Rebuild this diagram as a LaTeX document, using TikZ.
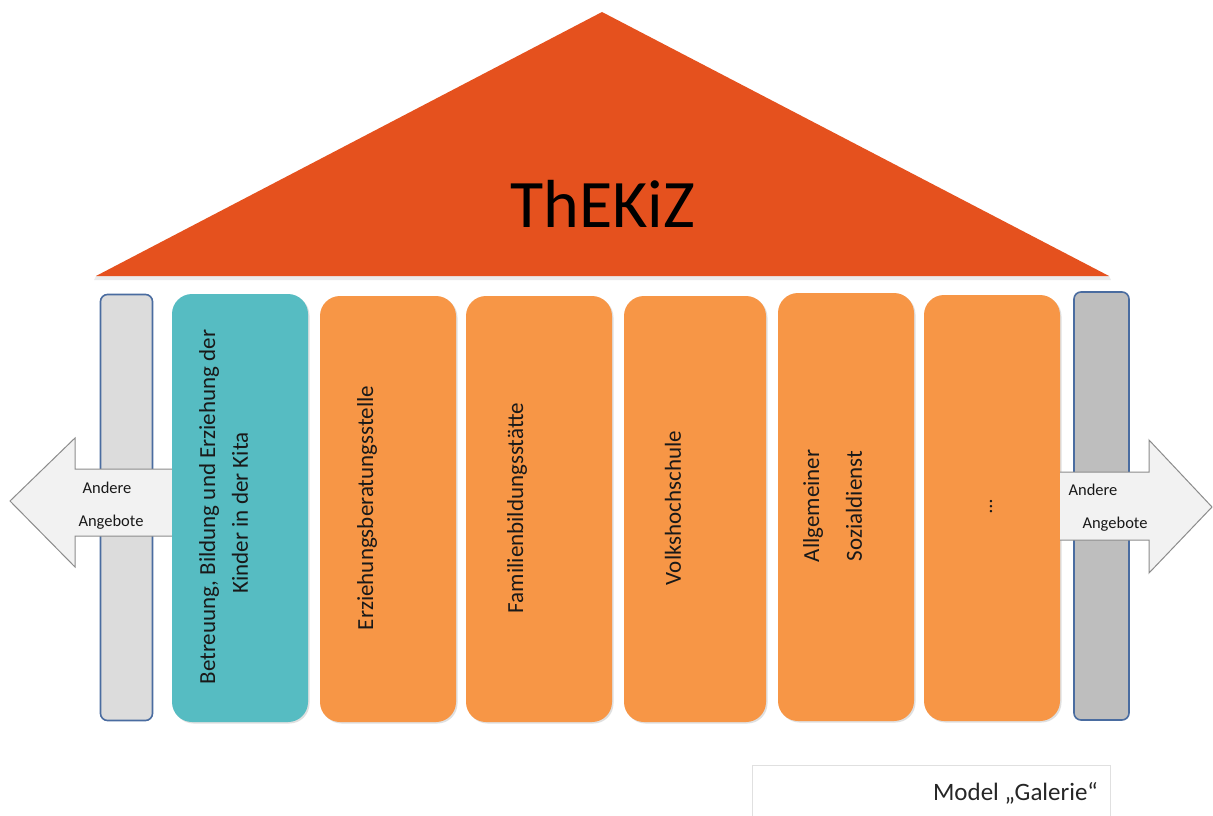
\documentclass[tikz,border=0pt]{standalone}
\usepackage{fontspec}
\setmainfont{Carlito}
\usetikzlibrary{shadows}
\definecolor{roof}{RGB}{229,81,30}
\definecolor{oran}{RGB}{247,150,70}
\definecolor{teal2}{RGB}{86,188,194}
\definecolor{pilL}{RGB}{220,220,220}
\definecolor{pilR}{RGB}{190,190,190}
\definecolor{pilB}{RGB}{74,108,160}
\definecolor{arrF}{RGB}{242,242,242}
\definecolor{arrB}{RGB}{140,140,140}
\definecolor{txt}{RGB}{25,25,25}
\tikzset{
  boxbase/.style={rectangle, rounded corners=20pt, inner sep=0pt, draw=none,
    drop shadow={shadow xshift=1.5pt, shadow yshift=-1.5pt, opacity=0.25}},
  obox/.style={boxbase, fill=oran},
  tbox/.style={boxbase, fill=teal2},
  pillar/.style={rectangle, rounded corners=7pt, inner sep=0pt, draw=pilB, line width=1.6pt},
  vlab/.style={rotate=90, inner sep=0pt, text=txt, font=\fontsize{23}{27}\selectfont},
  alab/.style={inner sep=0pt, text=txt, font=\fontsize{16.5}{19}\selectfont},
  arrowshape/.style={fill=arrF, draw=arrB, line width=1pt, line join=miter}
}
\begin{document}
\begin{tikzpicture}[x=1pt,y=-1pt]
\useasboundingbox (0,0) rectangle (1213,816);
\fill[white] (0,0) rectangle (1213,816);

% roof
\fill[black, opacity=0.08] (96,276) -- (1109,276) -- (1111,280) -- (94,280) -- cycle;
\fill[roof] (602,12) -- (1109,276) -- (96,276) -- cycle;
\node[inner sep=0pt, font=\fontsize{68}{80}\selectfont, text=black] (title) at (603,204) {ThEKiZ};

% left pillar and arrow
\node[pillar, fill=pilL, minimum width=52pt, minimum height=426pt] (pl) at (126.5,507.5) {};
\draw[arrowshape] (173,469) -- (75,469) -- (75,438) -- (10,501) -- (75,567) -- (75,536) -- (173,536);
\node[alab] (la1) at (107,488) {Andere};
\node[alab] (la2) at (111,522) {Angebote};

% boxes
\node[tbox, minimum width=136pt, minimum height=428pt] (b1) at (240,508) {};
\node[obox, minimum width=136pt, minimum height=426pt] (b2) at (388,509) {};
\node[obox, minimum width=146pt, minimum height=426pt] (b3) at (539,509) {};
\node[obox, minimum width=142pt, minimum height=426pt] (b4) at (695,509) {};
\node[obox, minimum width=136pt, minimum height=428pt] (b5) at (846,507) {};
\node[obox, minimum width=136pt, minimum height=426pt] (b6) at (992,508) {};

\node[vlab] (t1a) at (209,507) {Betreuung, Bildung und Erziehung der};
\node[vlab] (t1b) at (240,513) {Kinder in der Kita};
\node[vlab] (t2) at (367,508) {Erziehungsberatungsstelle};
\node[vlab] (t3) at (517,508) {Familienbildungsstätte};
\node[vlab] (t4) at (673,508) {Volkshochschule};
\node[vlab] (t5a) at (813,506) {Allgemeiner};
\node[vlab] (t5b) at (854,506) {Sozialdienst};
\node[vlab, font=\fontsize{20}{22}\selectfont] (t6) at (991,507) {…};

% right pillar and arrow
\node[pillar, fill=pilR, minimum width=55pt, minimum height=428pt] (pr) at (1101.5,506) {};
\draw[arrowshape] (1060,472) -- (1149,472) -- (1149,440) -- (1212,507) -- (1149,573) -- (1149,540) -- (1060,540);
\node[alab] (ra1) at (1093,490) {Andere};
\node[alab] (ra2) at (1115,524) {Angebote};

% model caption
\draw[draw=black!12, line width=0.8pt] (752,816) -- (752,765) -- (1110,765) -- (1110,816);
\node[inner sep=0pt, anchor=base east, text=black!85, font=\fontsize{25}{30}\selectfont] (cap) at (1098,800) {Model „Galerie“};
\end{tikzpicture}
\end{document}
